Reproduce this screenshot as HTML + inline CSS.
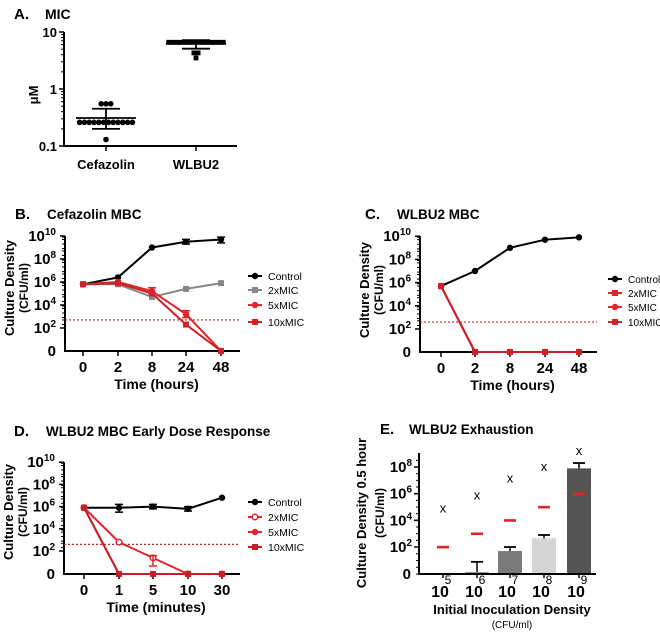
<!DOCTYPE html>
<html><head><meta charset="utf-8">
<style>
html,body{margin:0;padding:0;background:#fff;}
svg{display:block;font-family:"Liberation Sans",Arial,sans-serif;}
</style></head>
<body>
<svg id="fig" width="660" height="634" viewBox="0 0 660 634"></svg>
<script>
// ---- Panel A data ----
const aGroups = ["Cefazolin", "WLBU2"];
const aCefazolin = [0.55,0.55,0.55,0.26,0.26,0.26,0.26,0.26,0.26,0.26,0.26,0.26,0.26,0.26,0.26,0.13];
const aWlbu2 = [6.6,6.6,6.6,6.6,6.6,6.6,6.6,6.6,6.6,6.6,6.6,6.6,6.6,6.6,4.3,4.3,3.5];
const aMeans = [0.31, 6.2];
const aSdLow = [0.20, 5.1];
const aSdHigh = [0.45, 7.2];
const aTicks = [0.1, 1, 10];
// ---- Panel B data (log10 CFU; -1 = zero) ----
const bTimes = ["0","2","8","24","48"];
const bControl = [5.8,6.4,9.0,9.5,9.7];
const b2x = [5.8,5.8,4.7,5.4,5.9];
const b5x = [5.8,6.0,5.2,3.2,-1];
const b10x = [5.8,5.9,5.0,2.3,-1];
const bLimit = 2.7;
// ---- Panel C data ----
const cTimes = ["0","2","8","24","48"];
const cControl = [5.7,7.0,9.0,9.7,9.9];
const c2x = [5.7,-1,-1,-1,-1];
const c5x = [5.7,-1,-1,-1,-1];
const c10x = [5.7,-1,-1,-1,-1];
const cLimit = 2.6;
// ---- Panel D data ----
const dTimes = ["0","1","5","10","30"];
const dControl = [5.9,5.9,6.0,5.8,6.8];
const d2x = [5.9,2.8,1.4,-1,-1];
const d5x = [5.9,-1,-1,-1,-1];
const d10x = [5.9,-1,-1,-1,-1];
const dLimit = 2.6;
// ---- Panel E data ----
const eCats = ["5","6","7","8","9"];
const eBars = [-1,0.15,1.7,2.65,7.9];
const eErr = [-1,0.9,2.0,2.9,8.3];
const eRed = [2,3,4,5,6];
const eX = [4.9,5.85,7.15,8.0,9.2];
const eColors = ["#888","#999","#7a7a7a","#d4d4d4","#555"];

const NS="http://www.w3.org/2000/svg";
const svg=document.getElementById('fig');
function mk(tag,attrs,parent){const e=document.createElementNS(NS,tag);for(const k in attrs)e.setAttribute(k,attrs[k]);(parent||svg).appendChild(e);return e;}
function txt(x,y,s,size,anchor,parent,weight){const e=mk('text',{x:x,y:y,'font-size':size,'text-anchor':anchor||'start','font-weight':weight||'bold'},parent);e.textContent=s;return e;}
function pow(x,y,exp,parent,size){const g=mk('text',{x:x,y:y,'font-size':size||15,'text-anchor':'end','font-weight':'bold'},parent);
 const a=mk('tspan',{},g);a.textContent="10";const b=mk('tspan',{dy:-6,'font-size':10},g);b.textContent=exp;return g;}

// ===== Panel A =====
const gA=mk('g',{});
txt(14,19,"A.",15,'start',gA);txt(45,19,"MIC",14,'start',gA);
const aY=v=>89-Math.log10(v)*57;
const aX=[106,196];
mk('line',{x1:64,y1:32,x2:64,y2:146,stroke:'#000','stroke-width':2},gA);
mk('line',{x1:63,y1:146,x2:237,y2:146,stroke:'#000','stroke-width':2},gA);
aTicks.forEach(t=>{mk('line',{x1:59,y1:aY(t),x2:64,y2:aY(t),stroke:'#000','stroke-width':1.5},gA);txt(57,aY(t)+5,String(t),13,'end',gA);});
for(let d=-1;d<1;d++)for(let m=2;m<10;m++){const v=m*Math.pow(10,d);mk('line',{x1:61,y1:aY(v),x2:64,y2:aY(v),stroke:'#000','stroke-width':1},gA);}
aX.forEach((x,i)=>{mk('line',{x1:x,y1:146,x2:x,y2:151,stroke:'#000','stroke-width':1.5},gA);txt(x,169,aGroups[i],13,'middle',gA);});
const yl=txt(0,0,"μM",13,'middle',gA);yl.setAttribute('transform','translate(38,95) rotate(-90)');
function scatterGroup(vals,cx,shape){const rows={};vals.forEach(v=>{(rows[v]=rows[v]||[]).push(v);});
 Object.keys(rows).forEach(k=>{const n=rows[k].length;rows[k].forEach((v,j)=>{const x=cx+(j-(n-1)/2)*(shape==='c'?4.8:4.2);const y=aY(v);
  if(shape==='c'){const c=mk('circle',{cx:x,cy:y,r:2.8,fill:'#000'},gA);}
  else{const r=mk('rect',{x:x-2.4,y:y-2.4,width:4.8,height:4.8,fill:'#000'},gA);}});});}
scatterGroup(aCefazolin,aX[0],'c');scatterGroup(aWlbu2,aX[1],'s');
aX.forEach((x,i)=>{mk('line',{x1:x-30,y1:aY(aMeans[i]),x2:x+30,y2:aY(aMeans[i]),stroke:'#000','stroke-width':1.8},gA);
 mk('line',{x1:x,y1:aY(aSdLow[i]),x2:x,y2:aY(aSdHigh[i]),stroke:'#000','stroke-width':1.8},gA);
 [aSdLow[i],aSdHigh[i]].forEach(v=>mk('line',{x1:x-14,y1:aY(v),x2:x+14,y2:aY(v),stroke:'#000','stroke-width':1.8},gA));});

// ===== generic time-kill panel =====
function killPanel(o){
 const g=mk('g',{});
 txt(o.titleX,o.titleY,o.letter,15,'start',g);txt(o.titleX+32,o.titleY,o.title,13.5,'start',g);
 const Y=e=>{if(e<0)return o.zeroY; if(e<2)return o.zeroY-(o.zeroY-o.y2)*e/2; return o.y2-(e-2)*o.dec;};
 const X=i=>o.xs[i];
 mk('line',{x1:o.ax,y1:o.y2-8*o.dec,x2:o.ax,y2:o.zeroY,stroke:'#000','stroke-width':2},g);
 mk('line',{x1:o.ax-1,y1:o.zeroY,x2:o.axR,y2:o.zeroY,stroke:'#000','stroke-width':2},g);
 for(let e=2;e<=10;e+=2){mk('line',{x1:o.ax-5,y1:Y(e),x2:o.ax,y2:Y(e),stroke:'#000','stroke-width':1.5},g);pow(o.ax-9,Y(e)+5,String(e),g);}
 for(let e=2;e<10;e++)for(let m=2;m<10;m+=3){const yy=Y(e+Math.log10(m));mk('line',{x1:o.ax-3,y1:yy,x2:o.ax,y2:yy,stroke:'#000','stroke-width':1},g);}
 txt(o.ax-9,o.zeroY+5,"0",15,'end',g);
 const l1=txt(0,0,"Culture Density",13,'middle',g);l1.setAttribute('transform',`translate(${o.ax-51},${o.labelY}) rotate(-90)`);
 const l2=txt(0,0,"(CFU/ml)",12,'middle',g);l2.setAttribute('transform',`translate(${o.ax-37},${o.labelY}) rotate(-90)`);
 o.times.forEach((t,i)=>{mk('line',{x1:X(i),y1:o.zeroY,x2:X(i),y2:o.zeroY+5,stroke:'#000','stroke-width':1.5},g);txt(X(i),o.zeroY+21,t,15,'middle',g);});
 txt((o.ax+o.axR)/2+4,o.zeroY+38,o.xlabel,14,'middle',g);
 const dl=mk('line',{x1:o.ax,y1:Y(o.limit),x2:o.axR,y2:Y(o.limit),stroke:'#c0282d','stroke-width':1.2,'stroke-dasharray':'2,2'},g);
 
 o.series.forEach(s=>{
  const pts=s.vals.map((v,i)=>X(i)+','+Y(v)).join(' ');
  const pl=mk('polyline',{points:pts,fill:'none',stroke:s.color,'stroke-width':s.w||2},g);
  
  s.vals.forEach((v,i)=>{const m=marker(X(i),Y(v),s,g);});
 });
 (o.errs||[]).forEach(e=>{mk('line',{x1:X(e[0]),y1:Y(e[1]),x2:X(e[0]),y2:Y(e[2]),stroke:e[3],'stroke-width':1.5},g);
  [e[1],e[2]].forEach(v=>mk('line',{x1:X(e[0])-4,y1:Y(v),x2:X(e[0])+4,y2:Y(v),stroke:e[3],'stroke-width':1.5},g));});
 o.series.forEach((s,k)=>{const ly=o.legY[k];
  const gl=mk('g',{},g);
  mk('line',{x1:o.legX-7,y1:ly,x2:o.legX+7,y2:ly,stroke:s.color,'stroke-width':2},gl);marker(o.legX,ly,s,gl);
  txt(o.legX+13,ly+4,s.label,o.legSize||10.5,'start',gl,'normal');});
}
function marker(x,y,s,p){
 if(s.m==='sq')return mk('rect',{x:x-3,y:y-3,width:6,height:6,fill:s.color},p);
 if(s.m==='open')return mk('circle',{cx:x,cy:y,r:2.8,fill:'#fff',stroke:s.color,'stroke-width':1.5},p);
 return mk('circle',{cx:x,cy:y,r:3.2,fill:s.color},p);
}
killPanel({name:'panel-b-cefazolin-mbc',letter:'B.',title:'Cefazolin MBC',titleX:15,titleY:219,ax:65,axR:240,zeroY:351,y2:328,dec:11.5,
 xs:[83,118,152,186,221],times:bTimes,xlabel:'Time (hours)',limit:bLimit,labelY:288,legX:255,legY:[276,290,305,322],
 series:[{id:'control',label:'Control',vals:bControl,color:'#000',m:'c'},{id:'2xmic',label:'2xMIC',vals:b2x,color:'#888',m:'sq'},
 {id:'5xmic',label:'5xMIC',vals:b5x,color:'#e2242b',m:'c'},{id:'10xmic',label:'10xMIC',vals:b10x,color:'#d0202a',m:'sq'}],
 errs:[[3,9.3,9.7,'#000'],[4,9.4,9.9,'#000'],[2,5.0,5.5,'#e2242b'],[3,2.9,3.5,'#e2242b']]});
killPanel({name:'panel-c-wlbu2-mbc',letter:'C.',title:'WLBU2 MBC',titleX:365,titleY:219,ax:420,axR:597,zeroY:352,y2:329,dec:11.6,
 xs:[441,475,510,545,579],times:cTimes,xlabel:'Time (hours)',limit:cLimit,labelY:290,legX:615,legY:[279,293,307,322],legSize:10,
 series:[{id:'control',label:'Control',vals:cControl,color:'#000',m:'c'},{id:'2xmic',label:'2xMIC',vals:c2x,color:'#e2242b',m:'sq'},
 {id:'5xmic',label:'5xMIC',vals:c5x,color:'#e2242b',m:'c'},{id:'10xmic',label:'10xMIC',vals:c10x,color:'#d0202a',m:'sq'}]});
killPanel({name:'panel-d-early-dose-response',letter:'D.',title:'WLBU2 MBC Early Dose Response',titleX:14,titleY:436,ax:64,axR:240,zeroY:574,y2:551,dec:11.1,
 xs:[84,119,153,188,222],times:dTimes,xlabel:'Time (minutes)',limit:dLimit,labelY:512,legX:255,legY:[502,517,532,547],
 series:[{id:'control',label:'Control',vals:dControl,color:'#000',m:'c'},{id:'2xmic',label:'2xMIC',vals:d2x,color:'#e2242b',m:'open'},
 {id:'5xmic',label:'5xMIC',vals:d5x,color:'#e2242b',m:'c'},{id:'10xmic',label:'10xMIC',vals:d10x,color:'#c4202a',m:'sq'}],
 errs:[[1,5.5,6.2,'#000'],[2,5.8,6.2,'#000'],[3,5.6,6.0,'#000'],[2,0.7,1.6,'#e2242b']]});

// ===== Panel E =====
(function(){
 const g=mk('g',{});
 txt(380,434,"E.",15,'start',g);txt(409,434,"WLBU2 Exhaustion",13.5,'start',g);
 const ax=419,axR=596,zeroY=574,y2=547,dec=13.33;
 const Y=e=>{if(e<0)return zeroY; if(e<2)return zeroY-(zeroY-y2)*e/2; return y2-(e-2)*dec;};
 const xs=[443,477,510,544,579];
 eBars.forEach((v,i)=>{if(v<0)return;const r=mk('rect',{x:xs[i]-12,y:Y(v),width:24,height:zeroY-Y(v),fill:eColors[i]},g);
  
  mk('line',{x1:xs[i],y1:Y(v),x2:xs[i],y2:Y(eErr[i]),stroke:'#000','stroke-width':1.5},g);
  mk('line',{x1:xs[i]-6,y1:Y(eErr[i]),x2:xs[i]+6,y2:Y(eErr[i]),stroke:'#000','stroke-width':1.8},g);});
 mk('line',{x1:ax,y1:453,x2:ax,y2:zeroY,stroke:'#000','stroke-width':2},g);
 mk('line',{x1:ax-1,y1:zeroY,x2:axR,y2:zeroY,stroke:'#000','stroke-width':2},g);
 for(let e=2;e<=8;e+=2){mk('line',{x1:ax-5,y1:Y(e),x2:ax,y2:Y(e),stroke:'#000','stroke-width':1.5},g);pow(ax-7,Y(e)+5,String(e),g,15);}
 for(let e=0;e<9;e+=0.5){mk('line',{x1:ax-3,y1:Y(e),x2:ax,y2:Y(e),stroke:'#000','stroke-width':1},g);}
 txt(ax-8,zeroY+5,"0",15,'end',g);
 const l1=txt(0,0,"Culture Density 0.5 hour",13,'middle',g);l1.setAttribute('transform','translate(366,513) rotate(-90)');
 const l2=txt(0,0,"(CFU/ml)",12,'middle',g);l2.setAttribute('transform','translate(384,513) rotate(-90)');
 eRed.forEach((v,i)=>{const r=mk('rect',{x:xs[i]-6,y:Y(v)-1.2,width:12,height:2.6,fill:'#e2242b'},g);});
 eX.forEach((v,i)=>{const t=txt(xs[i],Y(v)+4,"x",13,'middle',g,'normal');});
 eCats.forEach((c,i)=>{mk('line',{x1:xs[i],y1:zeroY,x2:xs[i],y2:zeroY+4,stroke:'#000','stroke-width':1.5},g);
  txt(xs[i]-3,597,"10",16,'middle',g);txt(xs[i]+5,584,c,12,'middle',g,'normal');});
 txt(512,614,"Initial Inoculation Density",13,'middle',g);
 txt(512,628,"(CFU/ml)",10,'middle',g,'normal');
})();
</script>
</body></html>
